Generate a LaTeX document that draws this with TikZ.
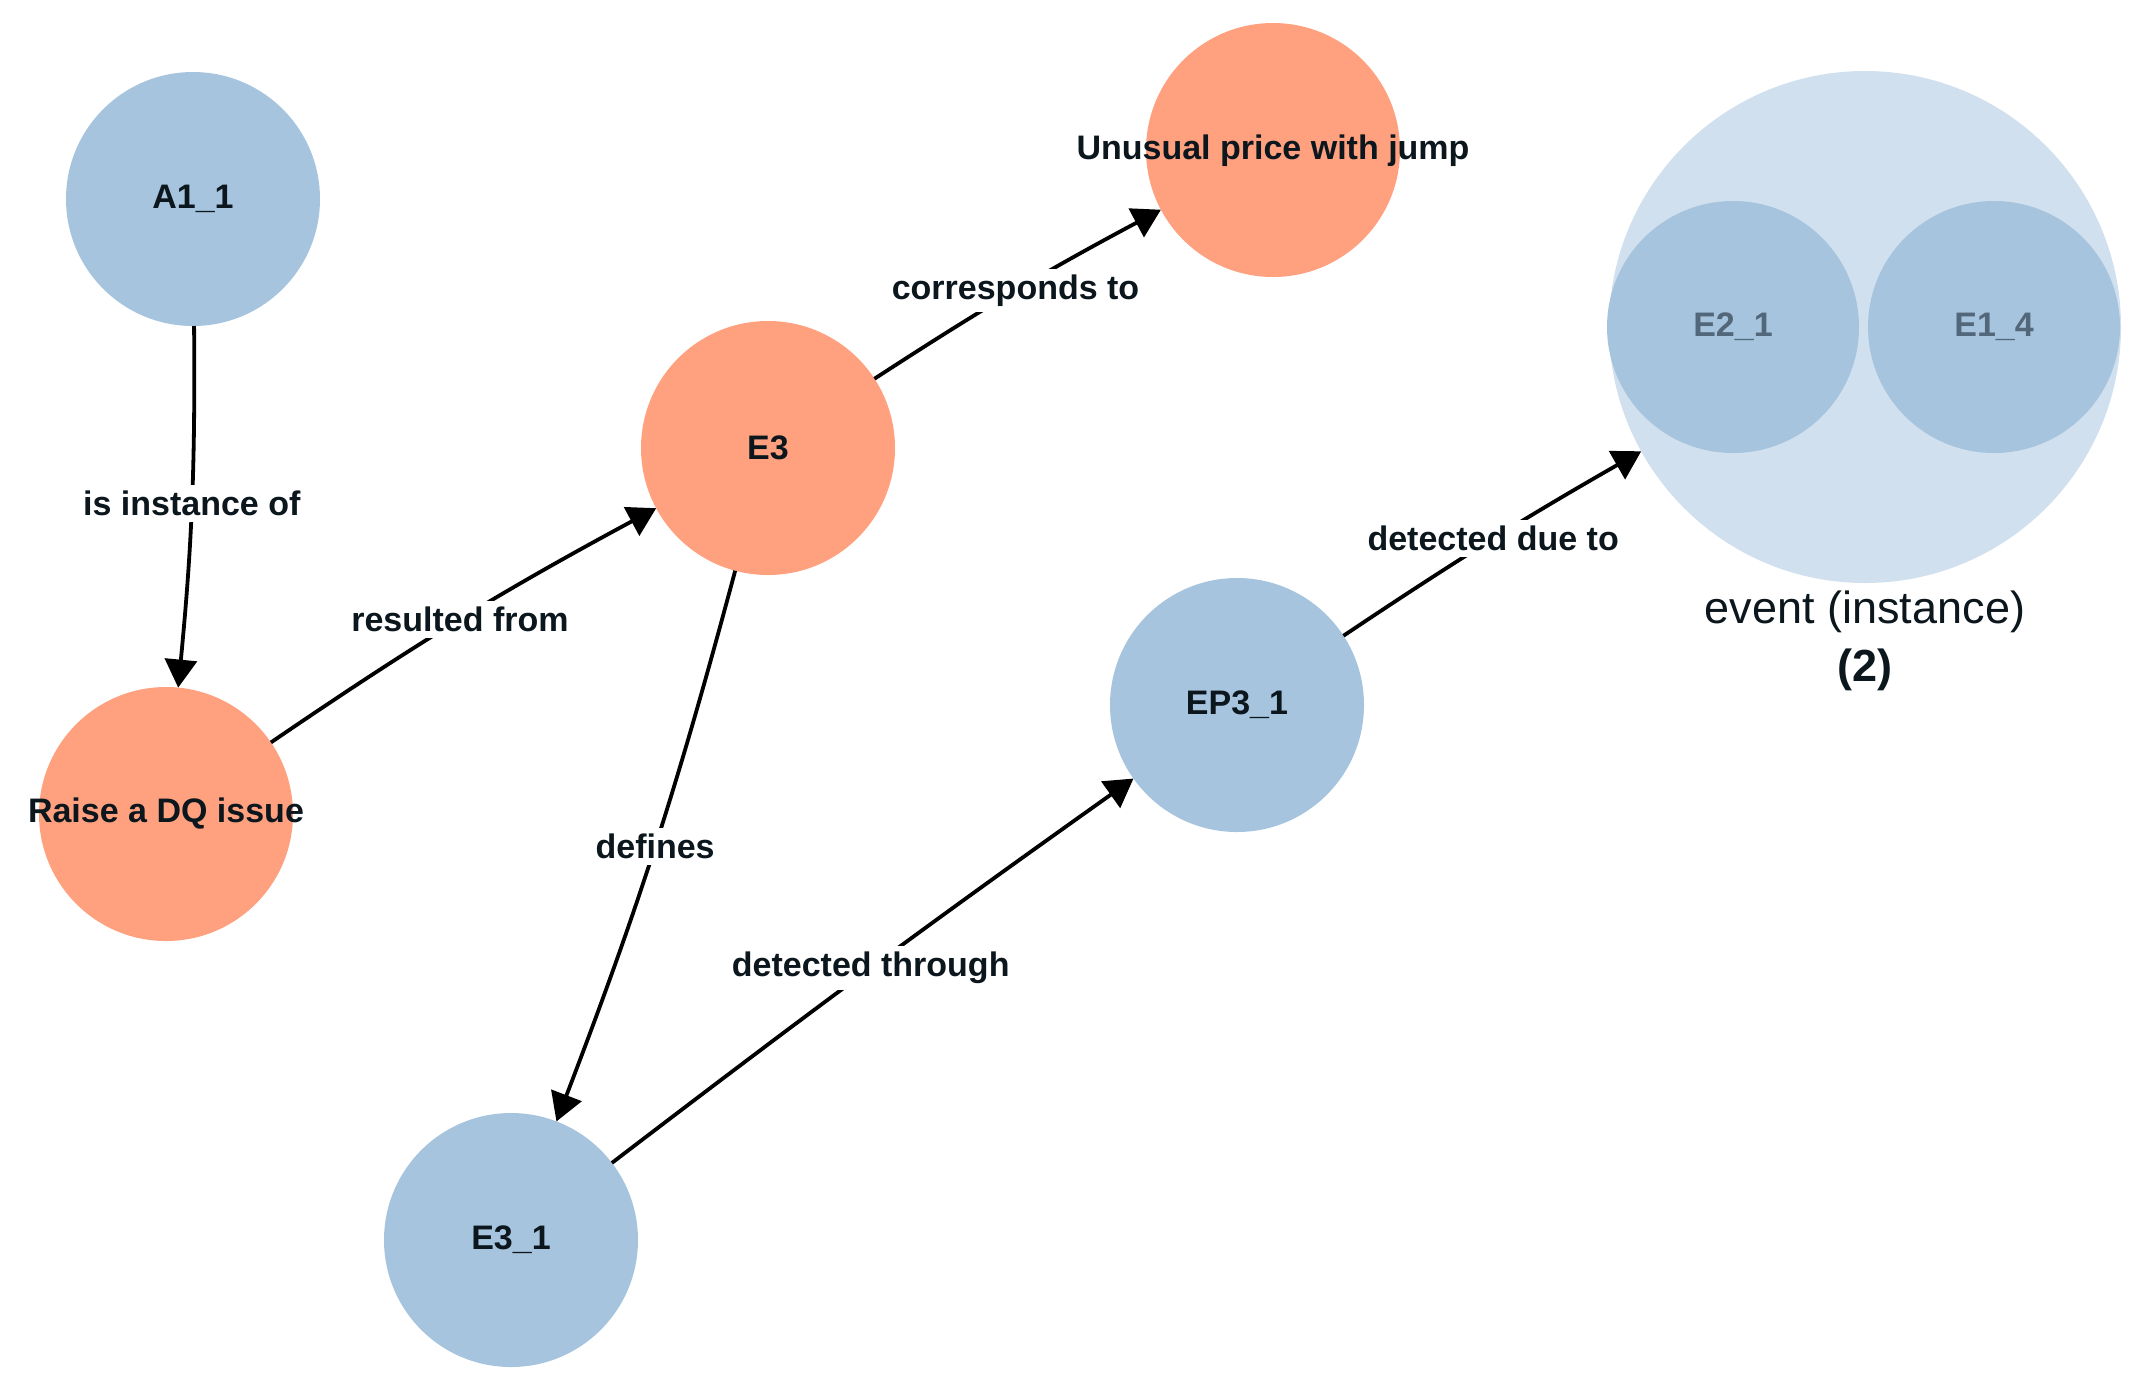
\documentclass[tikz,border=0pt]{standalone}
\usepackage{fontspec}
\setmainfont{Liberation Sans}
\usetikzlibrary{arrows.meta}
\definecolor{nodeblue}{HTML}{A6C4DE}
\definecolor{nodesalmon}{HTML}{FFA07F}
\definecolor{groupblue}{HTML}{D1E0EE}
\definecolor{txt}{HTML}{0B161D}
\definecolor{graytxt}{HTML}{52687A}
\begin{document}
\begin{tikzpicture}[x=0.5pt,y=0.5pt,
  circ/.style={circle, minimum size=127pt, inner sep=0pt, outer sep=0pt},
  bluecirc/.style={circ, fill=nodeblue},
  salmoncirc/.style={circ, fill=nodesalmon},
  nodetext/.style={text=txt, inner sep=0pt, font=\fontsize{17}{20}\selectfont\bfseries},
  graytext/.style={text=graytxt, inner sep=0pt, font=\fontsize{17}{20}\selectfont\bfseries},
  edge/.style={-{Triangle[length=14pt,width=16pt]}, line width=1.9pt, black},
  elabel/.style={fill=white, inner sep=3pt, text=txt, font=\fontsize{17}{20}\selectfont\bfseries}
]
\useasboundingbox (0,0) rectangle (2146,-1389);

% group
\node[circle, fill=groupblue, minimum size=256pt, inner sep=0pt, outer sep=0pt] (group) at (1865,-327) {};
\node[circle, fill=nodeblue, minimum size=126pt, inner sep=0pt] (e21) at (1733,-327) {};
\node[circle, fill=nodeblue, minimum size=126pt, inner sep=0pt] (e14) at (1994,-327) {};
\node[graytext] (e21t) at (e21) {E2\_1};
\node[graytext] (e14t) at (e14) {E1\_4};
\node[text=txt, inner sep=0pt, font=\fontsize{22.5}{26}\selectfont] (gl1) at (1865,-612) {event (instance)};
\node[text=txt, inner sep=0pt, font=\fontsize{22.5}{26}\selectfont\bfseries] (gl2) at (1865,-670) {(2)};

% nodes
\node[bluecirc] (a11) at (193,-199) {};
\node[salmoncirc] (raise) at (166,-814) {};
\node[salmoncirc] (e3) at (768,-448) {};
\node[salmoncirc] (unusual) at (1273,-150) {};
\node[bluecirc] (e31) at (511,-1240) {};
\node[bluecirc] (ep31) at (1237,-705) {};

% node texts
\node[nodetext] (a11t) at (a11) {A1\_1};
\node[nodetext] (raiset) at (raise) {Raise a DQ issue};
\node[nodetext] (e3t) at (e3) {E3};
\node[nodetext] (unusualt) at (1273,-151) {Unusual price with jump};
\node[nodetext] (e31t) at (e31) {E3\_1};
\node[nodetext] (ep31t) at (ep31) {EP3\_1};

% edges
\draw[edge] (a11) to[bend left=3] node[elabel, pos=0.49] {is instance of} (raise);
\draw[edge] (raise) to[bend left=3] node[elabel, pos=0.5] {resulted from} (e3);
\draw[edge] (e3) to[bend left=2.5] node[elabel, pos=0.5] {corresponds to} (unusual);
\draw[edge] (e3) to[bend left=3] node[elabel, pos=0.495] {defines} (e31);
\draw[edge] (e31) to[bend left=1] node[elabel, pos=0.5] {detected through} (ep31);
\draw[edge] (ep31) to[bend left=2] node[elabel, pos=0.51] {detected due to} (group);
\end{tikzpicture}
\end{document}
